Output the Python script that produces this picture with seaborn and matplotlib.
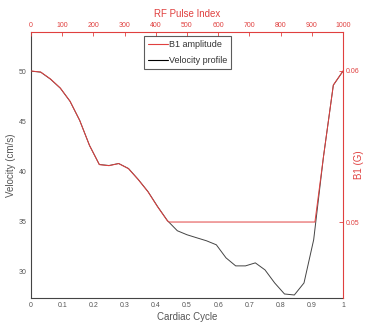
import matplotlib
matplotlib.use("Agg")
import matplotlib.pyplot as plt
import seaborn as sns
import pandas as pd
from matplotlib.lines import Line2D

# Velocity profile over the cardiac cycle
cycle = [0.0, 0.031, 0.0625, 0.094, 0.125, 0.156, 0.1875, 0.219, 0.25, 0.281,
         0.3125, 0.344, 0.375, 0.406, 0.4375, 0.469, 0.5, 0.531, 0.5625, 0.594,
         0.625, 0.656, 0.6875, 0.719, 0.75, 0.781, 0.8125, 0.844, 0.875, 0.906,
         0.9375, 0.969, 1.0]
velocity = [50.0, 49.9, 49.2, 48.3, 47.0, 45.1, 42.6, 40.7, 40.6, 40.8,
            40.3, 39.2, 38.0, 36.5, 35.1, 34.1, 33.7, 33.4, 33.1, 32.7,
            31.4, 30.6, 30.6, 30.9, 30.2, 28.9, 27.8, 27.7, 28.9, 33.2,
            41.5, 48.6, 50.0]

# B1 amplitude per RF pulse index
pulse_index = [0, 31, 62.5, 94, 125, 156, 187.5, 219, 250, 281,
               312.5, 344, 375, 406, 437.5, 443, 910, 937.5, 969, 1000]
b1_amplitude = [0.0600, 0.05993, 0.05947, 0.05887, 0.05800, 0.05673, 0.05507,
                0.05380, 0.05373, 0.05387, 0.05353, 0.05280, 0.05200, 0.05100,
                0.05007, 0.0500, 0.0500, 0.05433, 0.05907, 0.0600]

left_ticks = [30, 35, 40, 45, 50]
bottom_ticks = [0, 0.1, 0.2, 0.3, 0.4, 0.5, 0.6, 0.7, 0.8, 0.9, 1]
bottom_labels = ["0", "0.1", "0.2", "0.3", "0.4", "0.5", "0.6", "0.7", "0.8", "0.9", "1"]
top_ticks = [0, 100, 200, 300, 400, 500, 600, 700, 800, 900, 1000]
right_ticks = [0.05, 0.06]

sns.set_style("white")
plt.rcParams['font.family'] = ['Liberation Sans', 'DejaVu Sans']

RED = '#e0403f'
GRAY = '#444444'
TXT = '#555555'

fig = plt.figure(figsize=(3.67, 3.24), dpi=100)
pos = [31/367, 1-298/324, (343-31)/367, (298-32)/324]
ax = fig.add_axes(pos)
ax2 = fig.add_axes(pos)
ax2.patch.set_visible(False)

df_v = pd.DataFrame({"cycle": cycle, "velocity": velocity})
df_b = pd.DataFrame({"pulse": pulse_index, "b1": b1_amplitude})

sns.lineplot(data=df_v, x="cycle", y="velocity", ax=ax, color=GRAY, lw=0.7,
             estimator=None, sort=False, legend=False)
sns.lineplot(data=df_b, x="pulse", y="b1", ax=ax2, color=RED, lw=0.7,
             estimator=None, sort=False, legend=False)

ax.set_xlim(0, 1)
ax.set_ylim(27.4, 53.9)
ax2.set_xlim(0, 1000)
ax2.set_ylim(0.04497, 0.06258)

ax.set_xticks(bottom_ticks)
ax.set_xticklabels(bottom_labels)
ax.set_yticks(left_ticks)
ax2.set_xticks(top_ticks)
ax2.set_yticks(right_ticks)
ax2.set_yticklabels(["0.05", "0.06"])

ax2.xaxis.tick_top()
ax2.xaxis.set_label_position('top')
ax2.yaxis.tick_right()
ax2.yaxis.set_label_position('right')

for s in ['top', 'right']:
    ax.spines[s].set_visible(False)
for s in ['left', 'bottom']:
    ax.spines[s].set_color(GRAY)
    ax.spines[s].set_linewidth(0.8)
    ax2.spines[s].set_visible(False)
for s in ['top', 'right']:
    ax2.spines[s].set_color(RED)
    ax2.spines[s].set_linewidth(0.8)

ax.tick_params(axis='both', direction='in', length=3, width=0.6, color=GRAY,
               labelsize=5, labelcolor=TXT, pad=3)
ax2.tick_params(axis='both', direction='in', length=3, width=0.6, color=RED,
                labelsize=5, labelcolor=RED, pad=2)

ax.set_xlabel("Cardiac Cycle", fontsize=7, color=TXT, labelpad=2)
ax.set_ylabel("Velocity (cm/s)", fontsize=7, color=TXT, labelpad=2)
ax2.set_xlabel("RF Pulse Index", fontsize=7, color=RED, labelpad=4)
ax2.set_ylabel("B1 (G)", fontsize=7, color=RED, rotation=90, va='center', ha='center')
ax2.yaxis.set_label_coords((359 - 31) / 312, 0.5)

handles = [Line2D([0], [0], color=RED, lw=0.8), Line2D([0], [0], color='black', lw=0.8)]
leg = ax2.legend(handles, ["B1 amplitude", "Velocity profile"], loc='upper center',
                 bbox_to_anchor=(0.502, 0.985), fontsize=6.5, frameon=True, fancybox=False,
                 handlelength=2.2, handletextpad=0.15, borderpad=0.45, labelspacing=0.75,
                 borderaxespad=0.0)
leg.get_frame().set_edgecolor('#333333')
leg.get_frame().set_linewidth(0.8)
for t in leg.get_texts():
    t.set_color('#333333')

fig.savefig("out.png", dpi=100)
